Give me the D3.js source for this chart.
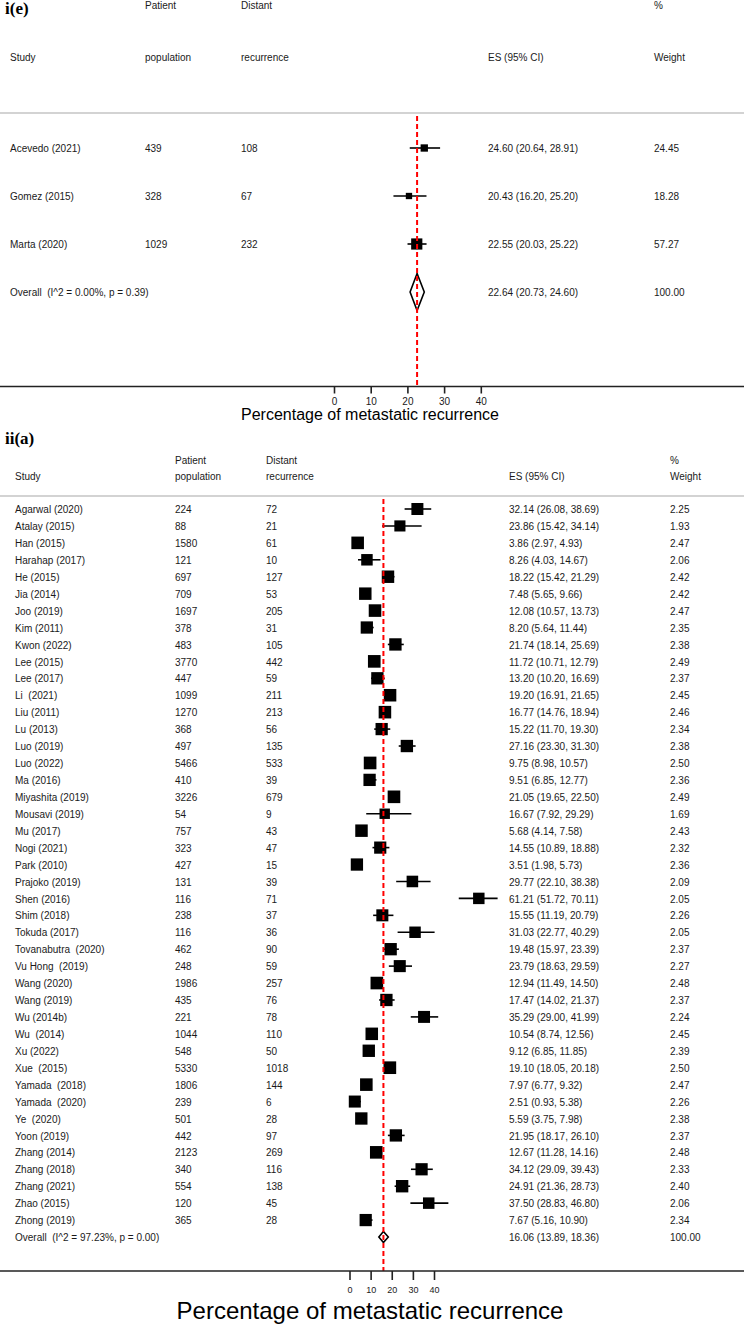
<!DOCTYPE html>
<html>
<head>
<meta charset="utf-8">
<script src="https://cdn.jsdelivr.net/npm/d3@7"></script>
<style>
html,body{margin:0;padding:0;background:#fff;}
svg text{font-family:"Liberation Sans",Arial,sans-serif;fill:#1a1a1a;white-space:pre;}
</style>
</head>
<body>
<svg id="chart" width="744" height="1328"></svg>
<script>
// ---------- Panel i(e) data ----------
const topStudies = ["Acevedo (2021)", "Gomez (2015)", "Marta (2020)"];
const topPopulation = [439, 328, 1029];
const topRecurrence = [108, 67, 232];
const topES = [24.60, 20.43, 22.55];
const topLow = [20.64, 16.20, 20.03];
const topHigh = [28.91, 25.20, 25.22];
const topWeight = [24.45, 18.28, 57.27];
const topOverallLabel = "Overall  (I^2 = 0.00%, p = 0.39)";
const topOverall = [22.64, 20.73, 24.60];
const topOverallWeight = 100.00;

// ---------- Panel ii(a) data ----------
const botStudies = ["Agarwal (2020)", "Atalay (2015)", "Han (2015)", "Harahap (2017)", "He (2015)", "Jia (2014)", "Joo (2019)", "Kim (2011)", "Kwon (2022)", "Lee (2015)", "Lee (2017)", "Li  (2021)", "Liu (2011)", "Lu (2013)", "Luo (2019)", "Luo (2022)", "Ma (2016)", "Miyashita (2019)", "Mousavi (2019)", "Mu (2017)", "Nogi (2021)", "Park (2010)", "Prajoko (2019)", "Shen (2016)", "Shim (2018)", "Tokuda (2017)", "Tovanabutra  (2020)", "Vu Hong  (2019)", "Wang (2020)", "Wang (2019)", "Wu (2014b)", "Wu  (2014)", "Xu (2022)", "Xue  (2015)", "Yamada  (2018)", "Yamada  (2020)", "Ye  (2020)", "Yoon (2019)", "Zhang (2014)", "Zhang (2018)", "Zhang (2021)", "Zhao (2015)", "Zhong (2019)"];
const botPopulation = [224, 88, 1580, 121, 697, 709, 1697, 378, 483, 3770, 447, 1099, 1270, 368, 497, 5466, 410, 3226, 54, 757, 323, 427, 131, 116, 238, 116, 462, 248, 1986, 435, 221, 1044, 548, 5330, 1806, 239, 501, 442, 2123, 340, 554, 120, 365];
const botRecurrence = [72, 21, 61, 10, 127, 53, 205, 31, 105, 442, 59, 211, 213, 56, 135, 533, 39, 679, 9, 43, 47, 15, 39, 71, 37, 36, 90, 59, 257, 76, 78, 110, 50, 1018, 144, 6, 28, 97, 269, 116, 138, 45, 28];
const botES = [32.14, 23.86, 3.86, 8.26, 18.22, 7.48, 12.08, 8.20, 21.74, 11.72, 13.20, 19.20, 16.77, 15.22, 27.16, 9.75, 9.51, 21.05, 16.67, 5.68, 14.55, 3.51, 29.77, 61.21, 15.55, 31.03, 19.48, 23.79, 12.94, 17.47, 35.29, 10.54, 9.12, 19.10, 7.97, 2.51, 5.59, 21.95, 12.67, 34.12, 24.91, 37.50, 7.67];
const botLow = [26.08, 15.42, 2.97, 4.03, 15.42, 5.65, 10.57, 5.64, 18.14, 10.71, 10.20, 16.91, 14.76, 11.70, 23.30, 8.98, 6.85, 19.65, 7.92, 4.14, 10.89, 1.98, 22.10, 51.72, 11.19, 22.77, 15.97, 18.63, 11.49, 14.02, 29.00, 8.74, 6.85, 18.05, 6.77, 0.93, 3.75, 18.17, 11.28, 29.09, 21.36, 28.83, 5.16];
const botHigh = [38.69, 34.14, 4.93, 14.67, 21.29, 9.66, 13.73, 11.44, 25.69, 12.79, 16.69, 21.65, 18.94, 19.30, 31.30, 10.57, 12.77, 22.50, 29.29, 7.58, 18.88, 5.73, 38.38, 70.11, 20.79, 40.29, 23.39, 29.59, 14.50, 21.37, 41.99, 12.56, 11.85, 20.18, 9.32, 5.38, 7.98, 26.10, 14.16, 39.43, 28.73, 46.80, 10.90];
const botWeight = [2.25, 1.93, 2.47, 2.06, 2.42, 2.42, 2.47, 2.35, 2.38, 2.49, 2.37, 2.45, 2.46, 2.34, 2.38, 2.50, 2.36, 2.49, 1.69, 2.43, 2.32, 2.36, 2.09, 2.05, 2.26, 2.05, 2.37, 2.27, 2.48, 2.37, 2.24, 2.45, 2.39, 2.50, 2.47, 2.26, 2.38, 2.37, 2.48, 2.33, 2.40, 2.06, 2.34];
const botOverallLabel = "Overall  (I^2 = 97.23%, p = 0.00)";
const botOverall = [16.06, 13.89, 18.36];
const botOverallWeight = 100.00;

const axisTicks = [0, 10, 20, 30, 40];
const axisTitle = "Percentage of metastatic recurrence";

const svg = d3.select("#chart");
svg.append("rect").attr("width", 744).attr("height", 1328).attr("fill", "#fff");

function fmt(v) { return d3.format(".2f")(v); }

function drawPanel(cfg) {
  const g = svg.append("g");
  const x = d3.scaleLinear().domain([0, 40]).range(cfg.xRange);
  const n = cfg.studies.length;
  const y = d3.scaleLinear().domain([0, n]).range(cfg.yRange);
  const col = cfg.cols;
  const fs = cfg.fontSize;

  // panel label
  g.append("text").attr("x", cfg.labelPos[0]).attr("y", cfg.labelPos[1])
    .attr("dominant-baseline", "middle")
    .style("font-family", "'Liberation Serif','Times New Roman',serif")
    .style("font-weight", "bold").style("font-size", cfg.labelSize + "px")
    .style("fill", "#000")
    .text(cfg.label);

  // header
  const h1 = cfg.header1Y, h2 = cfg.header2Y;
  [[col.pop, h1, "Patient"], [col.rec, h1, "Distant"], [col.w, h1, "%"],
   [col.study, h2, "Study"], [col.pop, h2, "population"], [col.rec, h2, "recurrence"],
   [col.es, h2, "ES (95% CI)"], [col.w, h2, "Weight"]].forEach(d => {
    g.append("text").attr("x", d[0]).attr("y", d[1]).attr("dominant-baseline", "middle")
      .style("font-size", fs + "px").text(d[2]);
  });

  // header rule
  g.append("line").attr("x1", 0).attr("x2", 744).attr("y1", cfg.ruleY).attr("y2", cfg.ruleY)
    .attr("stroke", "#c4c4c4").attr("stroke-width", 1.5);

  // row text
  const rows = g.selectAll("g.row").data(d3.range(n)).join("g").attr("class", "row");
  const ty = i => y(i) + cfg.textDy;
  rows.append("text").attr("x", col.study).attr("y", ty).attr("dominant-baseline", "middle")
    .style("font-size", fs + "px").text(i => cfg.studies[i]);
  rows.append("text").attr("x", col.pop).attr("y", ty).attr("dominant-baseline", "middle")
    .style("font-size", fs + "px").text(i => cfg.population[i]);
  rows.append("text").attr("x", col.rec).attr("y", ty).attr("dominant-baseline", "middle")
    .style("font-size", fs + "px").text(i => cfg.recurrence[i]);
  rows.append("text").attr("x", col.es).attr("y", ty).attr("dominant-baseline", "middle")
    .style("font-size", fs + "px")
    .text(i => fmt(cfg.es[i]) + " (" + fmt(cfg.low[i]) + ", " + fmt(cfg.high[i]) + ")");
  rows.append("text").attr("x", col.w).attr("y", ty).attr("dominant-baseline", "middle")
    .style("font-size", fs + "px").text(i => fmt(cfg.weight[i]));

  // overall row text
  const oy = y(n) + cfg.textDy;
  g.append("text").attr("x", col.study).attr("y", oy).attr("dominant-baseline", "middle")
    .style("font-size", fs + "px").text(cfg.overallLabel);
  g.append("text").attr("x", col.es).attr("y", oy).attr("dominant-baseline", "middle")
    .style("font-size", fs + "px")
    .text(fmt(cfg.overall[0]) + " (" + fmt(cfg.overall[1]) + ", " + fmt(cfg.overall[2]) + ")");
  g.append("text").attr("x", col.w).attr("y", oy).attr("dominant-baseline", "middle")
    .style("font-size", fs + "px").text(fmt(cfg.overallWeight));

  // overall diamond
  const dh = cfg.diamondHalf;
  const cy = y(n);
  g.append("path")
    .attr("d", `M${x(cfg.overall[1])},${cy} L${x(cfg.overall[0])},${cy - dh} L${x(cfg.overall[2])},${cy} L${x(cfg.overall[0])},${cy + dh} Z`)
    .attr("fill", "none").attr("stroke", "#000").attr("stroke-width", 1.6);

  // red dashed overall line
  g.append("line").attr("x1", x(cfg.overall[0])).attr("x2", x(cfg.overall[0]))
    .attr("y1", cfg.ruleY + 3).attr("y2", cfg.axisY)
    .attr("stroke", "#ff0000").attr("stroke-width", 2).attr("stroke-dasharray", "5,3");

  // CI lines
  rows.append("line").attr("x1", i => x(cfg.low[i])).attr("x2", i => x(cfg.high[i]))
    .attr("y1", i => y(i)).attr("y2", i => y(i))
    .attr("stroke", "#000").attr("stroke-width", 1.6);
  // squares
  rows.append("rect")
    .attr("x", i => x(cfg.es[i]) - cfg.sq * Math.sqrt(cfg.weight[i]) / 2)
    .attr("y", i => y(i) - cfg.sq * Math.sqrt(cfg.weight[i]) / 2)
    .attr("width", i => cfg.sq * Math.sqrt(cfg.weight[i]))
    .attr("height", i => cfg.sq * Math.sqrt(cfg.weight[i]))
    .attr("fill", "#000");

  // axis
  g.append("line").attr("x1", 0).attr("x2", 744).attr("y1", cfg.axisY).attr("y2", cfg.axisY)
    .attr("stroke", "#222").attr("stroke-width", 1.6);
  const ax = g.append("g").attr("transform", `translate(0,${cfg.axisY})`)
    .call(d3.axisBottom(x).tickValues(axisTicks).tickSize(cfg.tickSize).tickPadding(cfg.tickPad));
  ax.select(".domain").remove();
  ax.selectAll(".tick line").attr("stroke", "#222").attr("stroke-width", 1.6);
  ax.selectAll(".tick text").style("font-family", "'Liberation Sans',Arial,sans-serif")
    .style("font-size", cfg.tickFont + "px").attr("fill", "#1a1a1a");

  g.append("text").attr("x", cfg.titleX).attr("y", cfg.titleY).attr("text-anchor", "middle")
    .attr("dominant-baseline", "middle").style("font-size", cfg.titleSize + "px")
    .style("fill", "#000").text(axisTitle);
}

drawPanel({
  label: "i(e)", labelPos: [5, 10], labelSize: 17,
  studies: topStudies, population: topPopulation, recurrence: topRecurrence,
  es: topES, low: topLow, high: topHigh, weight: topWeight,
  overallLabel: topOverallLabel, overall: topOverall, overallWeight: topOverallWeight,
  xRange: [334, 480.8], yRange: [148, 292],
  cols: { study: 10, pop: 145, rec: 241, es: 488, w: 654 },
  fontSize: 10, textDy: 1, header1Y: 6, header2Y: 58, ruleY: 113,
  diamondHalf: 18.5, sq: 1.48,
  axisY: 386.5, tickSize: 7, tickPad: 4, tickFont: 10,
  titleX: 370, titleY: 416, titleSize: 16
});

drawPanel({
  label: "ii(a)", labelPos: [5, 440], labelSize: 17,
  studies: botStudies, population: botPopulation, recurrence: botRecurrence,
  es: botES, low: botLow, high: botHigh, weight: botWeight,
  overallLabel: botOverallLabel, overall: botOverall, overallWeight: botOverallWeight,
  xRange: [349.5, 434], yRange: [509, 1237],
  cols: { study: 15, pop: 175, rec: 266, es: 509, w: 670 },
  fontSize: 10, textDy: 1.5, header1Y: 461, header2Y: 477, ruleY: 496,
  diamondHalf: 5.5, sq: 8.0,
  axisY: 1271, tickSize: 9, tickPad: 7, tickFont: 9,
  titleX: 370, titleY: 1313, titleSize: 24
});
</script>
</body>
</html>
